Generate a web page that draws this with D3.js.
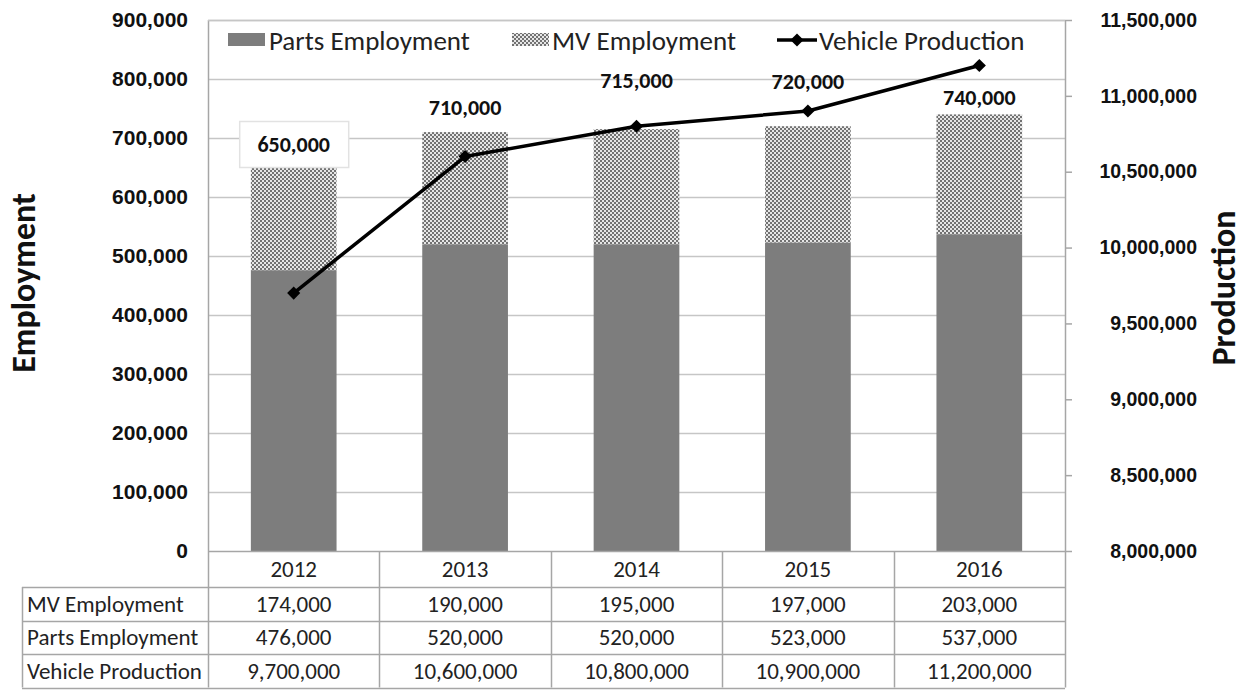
<!DOCTYPE html>
<html>
<head>
<meta charset="utf-8">
<script src="https://cdn.jsdelivr.net/npm/d3@7"></script>
<style>
  html, body { margin: 0; padding: 0; background: #fff; }
  svg { display: block; font-family: Carlito, Lato, "Open Sans", sans-serif; font-feature-settings: "tnum" 1; font-variant-numeric: tabular-nums; }
</style>
</head>
<body>
<svg id="chart" width="1247" height="691"></svg>
<script>
// Auto industry: employment (stacked bars) and vehicle production (line)
const years = ["2012", "2013", "2014", "2015", "2016"];
const partsEmployment = [476000, 520000, 520000, 523000, 537000];
const mvEmployment = [174000, 190000, 195000, 197000, 203000];
const totalEmployment = [650000, 710000, 715000, 720000, 740000];
const vehicleProduction = [9700000, 10600000, 10800000, 10900000, 11200000];
const leftTicks = [0, 100000, 200000, 300000, 400000, 500000, 600000, 700000, 800000, 900000];
const rightTicks = [8000000, 8500000, 9000000, 9500000, 10000000, 10500000, 11000000, 11500000];

// label placement (pixels above the top of each stack)
const labelLift = [23, 25, 49, 45, 17];

const plot = { left: 208, right: 1065, top: 20, bottom: 551 };
const table = { left: 22, rowH: [36, 33.5, 33.5, 33.5] };

const svg = d3.select("#chart");
const fmt = d3.format(",");

const x = d3.scaleBand().domain(years).range([plot.left, plot.right])
  .paddingInner(0.5).paddingOuter(0.25);
const yL = d3.scaleLinear().domain([0, 900000]).range([plot.bottom, plot.top]);
const yR = d3.scaleLinear().domain([8000000, 11500000]).range([plot.bottom, plot.top]);

const gridColor = "#c6c6c6";
const partsColor = "#7d7d7d";
const lineC = "#a6a6a6";

// checker fill for MV employment
const defs = svg.append("defs");
const pat = defs.append("pattern").attr("id", "checker")
  .attr("patternUnits", "userSpaceOnUse").attr("width", 4).attr("height", 4);
pat.append("rect").attr("width", 4).attr("height", 4).attr("fill", "#e6e6e6");
pat.append("rect").attr("width", 2).attr("height", 2).attr("fill", "#727272");
pat.append("rect").attr("x", 2).attr("y", 2).attr("width", 2).attr("height", 2).attr("fill", "#727272");

// gridlines
svg.append("g").selectAll("line").data(leftTicks.slice(1)).join("line")
  .attr("x1", plot.left).attr("x2", plot.right)
  .attr("y1", d => Math.round(yL(d)) + 0.5).attr("y2", d => Math.round(yL(d)) + 0.5)
  .attr("stroke", gridColor).attr("stroke-width", 1.5);

// stacked bars
const bars = svg.append("g");
bars.selectAll("rect.parts").data(years).join("rect").attr("class", "parts")
  .attr("x", d => x(d)).attr("width", x.bandwidth())
  .attr("y", (d, i) => yL(partsEmployment[i]))
  .attr("height", (d, i) => yL(0) - yL(partsEmployment[i]))
  .attr("fill", partsColor);
bars.selectAll("rect.mv").data(years).join("rect").attr("class", "mv")
  .attr("x", d => x(d)).attr("width", x.bandwidth())
  .attr("y", (d, i) => yL(partsEmployment[i] + mvEmployment[i]))
  .attr("height", (d, i) => yL(partsEmployment[i]) - yL(partsEmployment[i] + mvEmployment[i]))
  .attr("fill", "url(#checker)");

// left axis
const axL = svg.append("g").attr("transform", `translate(${plot.left},0)`)
  .call(d3.axisLeft(yL).tickValues(leftTicks).tickFormat(fmt).tickSize(0).tickPadding(20));
axL.select(".domain").remove();
axL.selectAll("text").attr("font-size", 21).attr("font-weight", 600)
  .attr("fill", "#111").attr("font-family", null);

// right axis
const axR = svg.append("g").attr("transform", `translate(${plot.right},0)`)
  .call(d3.axisRight(yR).tickValues(rightTicks).tickFormat(fmt).tickSize(7).tickPadding(125));
axR.select(".domain").remove();
axR.selectAll("line").attr("stroke", lineC).attr("stroke-width", 1.5);
axR.selectAll("text").attr("font-size", 19.5).attr("font-weight", 600)
  .attr("fill", "#111").attr("text-anchor", "end").attr("font-family", null);

// plot frame lines
const tableBottom = plot.bottom + d3.sum(table.rowH);
svg.append("line").attr("x1", plot.left + 0.5).attr("x2", plot.left + 0.5)
  .attr("y1", plot.top).attr("y2", tableBottom).attr("stroke", lineC).attr("stroke-width", 1.5);
svg.append("line").attr("x1", plot.right + 0.5).attr("x2", plot.right + 0.5)
  .attr("y1", plot.top).attr("y2", tableBottom).attr("stroke", lineC).attr("stroke-width", 1.5);
svg.append("line").attr("x1", plot.left).attr("x2", plot.right)
  .attr("y1", plot.top + 0.5).attr("y2", plot.top + 0.5).attr("stroke", gridColor).attr("stroke-width", 1.5);

// data table under the plot
const rowTop = [plot.bottom];
table.rowH.forEach((h, i) => rowTop.push(rowTop[i] + h));
const tbl = svg.append("g");
tbl.append("line").attr("x1", plot.left).attr("x2", plot.right)
  .attr("y1", plot.bottom + 0.5).attr("y2", plot.bottom + 0.5).attr("stroke", lineC).attr("stroke-width", 1.5);
rowTop.slice(1).forEach(yy => {
  tbl.append("line").attr("x1", table.left).attr("x2", plot.right)
    .attr("y1", Math.round(yy) + 0.5).attr("y2", Math.round(yy) + 0.5)
    .attr("stroke", lineC).attr("stroke-width", 1.5);
});
years.slice(1).forEach(yr => {
  const xx = Math.round(x(yr) - x.step() * x.paddingInner() / 2) + 0.5;
  tbl.append("line").attr("x1", xx).attr("x2", xx).attr("y1", plot.bottom).attr("y2", tableBottom)
    .attr("stroke", lineC).attr("stroke-width", 1.5);
});
tbl.append("line").attr("x1", table.left + 0.5).attr("x2", table.left + 0.5)
  .attr("y1", rowTop[1]).attr("y2", tableBottom).attr("stroke", lineC).attr("stroke-width", 1.5);

const rowNames = ["MV Employment", "Parts Employment", "Vehicle Production"];
const rowVals = [mvEmployment, partsEmployment, vehicleProduction];
const textStyle = s => s.attr("font-size", 23).attr("fill", "#222").attr("dominant-baseline", "central");
tbl.selectAll("text.yr").data(years).join("text").attr("class", "yr")
  .attr("x", d => x(d) + x.bandwidth() / 2).attr("y", (rowTop[0] + rowTop[1]) / 2)
  .attr("text-anchor", "middle").text(d => d).call(textStyle);
rowNames.forEach((name, r) => {
  const cy = (rowTop[r + 1] + rowTop[r + 2]) / 2;
  tbl.append("text").attr("x", table.left + 5).attr("y", cy).text(name).call(textStyle);
  tbl.selectAll(null).data(years).join("text")
    .attr("x", d => x(d) + x.bandwidth() / 2).attr("y", cy)
    .attr("text-anchor", "middle").text((d, i) => fmt(rowVals[r][i])).call(textStyle);
});

// vehicle production line
const cx = d => x(d) + x.bandwidth() / 2;
const lineGen = d3.line().x((d, i) => cx(years[i])).y(d => yR(d));
svg.append("path").datum(vehicleProduction).attr("d", lineGen)
  .attr("fill", "none").attr("stroke", "#000").attr("stroke-width", 3.5).attr("stroke-linejoin", "round");
const diamond = d3.symbol().type(d3.symbolDiamond2).size(110);
svg.append("g").selectAll("path").data(vehicleProduction).join("path")
  .attr("transform", (d, i) => `translate(${cx(years[i])},${yR(d)})`)
  .attr("d", diamond).attr("fill", "#000");

// total labels
const labels = svg.append("g");
years.forEach((yr, i) => {
  const ly = yL(totalEmployment[i]) - labelLift[i];
  if (i === 0) {
    labels.append("rect").attr("x", cx(yr) - 54).attr("y", ly - 23).attr("width", 109).attr("height", 46)
      .attr("fill", "#fff").attr("stroke", "#e2e2e2").attr("stroke-width", 1.5);
  }
  labels.append("text").attr("x", cx(yr)).attr("y", ly)
    .attr("text-anchor", "middle").attr("dominant-baseline", "central")
    .attr("font-size", 22).attr("font-weight", 700).attr("fill", "#111")
    .text(fmt(totalEmployment[i]));
});

// legend
const lg = svg.append("g").attr("font-size", 27).attr("fill", "#222");
lg.append("rect").attr("x", 228).attr("y", 33).attr("width", 37).attr("height", 13).attr("fill", partsColor);
lg.append("text").attr("x", 269).attr("y", 40).attr("dominant-baseline", "central").text("Parts Employment");
lg.append("rect").attr("x", 512).attr("y", 33).attr("width", 37).attr("height", 13).attr("fill", "url(#checker)");
lg.append("text").attr("x", 552).attr("y", 40).attr("dominant-baseline", "central").text("MV Employment");
lg.append("line").attr("x1", 777).attr("x2", 817).attr("y1", 40).attr("y2", 40).attr("stroke", "#000").attr("stroke-width", 3.5);
lg.append("path").attr("transform", "translate(797,40)").attr("d", diamond).attr("fill", "#000");
lg.append("text").attr("x", 819).attr("y", 40).attr("dominant-baseline", "central").text("Vehicle Production");

// axis titles
svg.append("text").attr("transform", "translate(35,283) rotate(-90)")
  .attr("text-anchor", "middle")
  .attr("font-size", 34).attr("font-weight", 700).attr("fill", "#111").text("Employment");
svg.append("text").attr("transform", "translate(1235,288) rotate(-90)")
  .attr("text-anchor", "middle")
  .attr("font-size", 34).attr("font-weight", 700).attr("fill", "#111").text("Production");
</script>
</body>
</html>
